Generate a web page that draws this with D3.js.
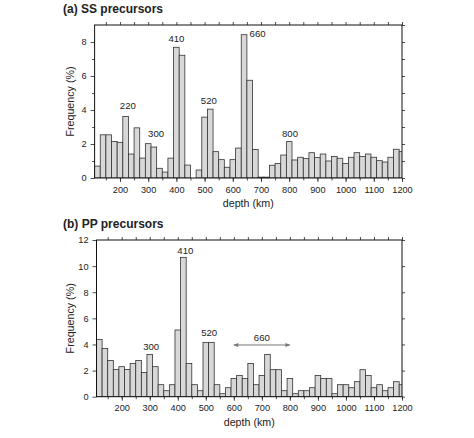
<!DOCTYPE html>
<html>
<head>
<meta charset="utf-8">
<script src="https://cdn.jsdelivr.net/npm/d3@7"></script>
<style>
  body { margin: 0; background: #fff; }
  svg text { font-family: "Liberation Sans", Arial, Helvetica, sans-serif; fill: #222; }
</style>
</head>
<body>
<div id="chart"></div>
<script>
// bin centres (km), 20 km wide bins
var depths = [120, 140, 160, 180, 200, 220, 240, 260, 280, 300,
  320, 340, 360, 380, 400, 420, 440, 460, 480, 500,
  520, 540, 560, 580, 600, 620, 640, 660, 680, 700,
  720, 740, 760, 780, 800, 820, 840, 860, 880, 900,
  920, 940, 960, 980, 1000, 1020, 1040, 1060, 1080, 1100,
  1120, 1140, 1160, 1180, 1200];

var ssFreq = [0.7, 2.54, 2.54, 2.15, 2.1, 3.62, 1.41, 2.95, 1.17, 2.02,
  1.82, 0.57, 0.35, 1.17, 7.69, 7.22, 0.76, 0, 0.47, 3.58,
  4.05, 1.55, 1.08, 0.63, 1.08, 1.76, 8.43, 5.75, 1.68, 0.05,
  0.05, 0.75, 0.86, 1.35, 2.14, 1.06, 1.22, 1.14, 1.49, 1.2,
  1.41, 1.0, 1.27, 1.16, 0.86, 1.22, 1.49, 1.27, 1.41, 1.22,
  1.02, 0.94, 1.22, 1.69, 1.55];

var ppFreq = [4.39, 3.7, 2.78, 2.09, 2.3, 2.09, 2.55, 2.78, 1.86, 3.24,
  2.3, 0.92, 0.46, 0.92, 5.11, 10.67, 2.55, 0.92, 0.46, 4.16,
  4.16, 0.92, 0.23, 0.69, 1.4, 1.63, 1.4, 2.55, 0.92, 1.63,
  3.24, 2.07, 2.07, 0.46, 1.4, 0.23, 0.46, 0.46, 0.69, 1.63,
  1.4, 1.4, 0.23, 0.92, 0.92, 0.69, 1.15, 2.07, 1.63, 0.69,
  0.92, 0.46, 0.69, 1.15, 0.92];

var xTicks = [200, 300, 400, 500, 600, 700, 800, 900, 1000, 1100, 1200];

// discontinuity labels: text, depth, frequency
var ssLabels = ['220', '300', '410', '520', '660', '800'];
var ssLabelDepth = [228, 328, 400, 515, 688, 803];
var ssLabelFreq = [4.24, 2.59, 8.18, 4.55, 8.47, 2.59];

var ppLabels = ['300', '410', '520', '660'];
var ppLabelDepth = [305, 427, 512, 700];
var ppLabelFreq = [3.83, 11.2, 4.93, 4.55];
var ppArrow = [600, 800, 3.96];

var W = 474, H = 438;

var svg = d3.select('#chart').append('svg')
  .attr('width', W)
  .attr('height', H);

var defs = svg.append('defs');
defs.append('marker')
  .attr('id', 'ahead')
  .attr('viewBox', '0 0 10 10')
  .attr('refX', 9).attr('refY', 5)
  .attr('markerWidth', 8).attr('markerHeight', 5)
  .attr('markerUnits', 'userSpaceOnUse')
  .attr('orient', 'auto-start-reverse')
  .append('path')
  .attr('d', 'M0,1 L10,5 L0,9 Z')
  .attr('fill', '#777');

drawPanel({
  id: 'a', title: '(a) SS precursors', values: ssFreq,
  left: 94.6, right: 402, top: 25, bottom: 178,
  yMax: 9, yMajor: 2, rightStep: 1, leftMinor: true,
  labels: ssLabels, labelDepth: ssLabelDepth, labelFreq: ssLabelFreq,
  titleY: 12.5
});

drawPanel({
  id: 'b', title: '(b) PP precursors', values: ppFreq,
  left: 96.5, right: 402, top: 240, bottom: 396.7,
  yMax: 12, yMajor: 2, rightStep: 2, leftMinor: false,
  labels: ppLabels, labelDepth: ppLabelDepth, labelFreq: ppLabelFreq,
  arrow: ppArrow, titleY: 228
});

function drawPanel(p) {
  var x = d3.scaleLinear().domain([110, 1200]).range([p.left, p.right]);
  var y = d3.scaleLinear().domain([0, p.yMax]).range([p.bottom, p.top]);

  var g = svg.append('g');

  g.append('clipPath')
    .attr('id', 'clip-' + p.id)
    .append('rect')
    .attr('x', p.left).attr('y', p.top)
    .attr('width', p.right - p.left)
    .attr('height', p.bottom - p.top);

  // bars
  g.append('g')
    .attr('clip-path', 'url(#clip-' + p.id + ')')
    .selectAll('rect')
    .data(depths)
    .enter()
    .append('rect')
    .attr('x', function(d) { return x(d - 10); })
    .attr('width', function(d) { return x(d + 10) - x(d - 10); })
    .attr('y', function(d, i) { return y(p.values[i]); })
    .attr('height', function(d, i) { return y(0) - y(p.values[i]); })
    .attr('fill', '#d8d8d8')
    .attr('stroke', '#333')
    .attr('stroke-width', 0.8)
    .style('display', function(d, i) { return p.values[i] > 0 ? null : 'none'; });

  // frame axes
  var minorX = d3.range(150, 1201, 50);
  var bottomMinor = d3.axisBottom(x).tickValues(minorX).tickSize(2.5).tickFormat('');
  var bottomMajor = d3.axisBottom(x).tickValues(xTicks).tickSize(4).tickPadding(4).tickFormat(d3.format('d'));
  var topAxis = d3.axisTop(x).tickValues(minorX).tickSize(3).tickFormat('');

  var yMajorTicks = d3.range(0, p.yMax + 0.01, p.yMajor);
  var leftMajor = d3.axisLeft(y).tickValues(yMajorTicks).tickSize(4).tickPadding(4).tickFormat(d3.format('d'));
  var rightAxis = d3.axisRight(y).tickValues(d3.range(0, p.yMax + 0.01, p.rightStep)).tickSize(3).tickFormat('');

  g.append('g').attr('transform', 'translate(0,' + p.bottom + ')').call(bottomMinor);
  g.append('g').attr('transform', 'translate(0,' + p.bottom + ')').call(bottomMajor);
  g.append('g').attr('transform', 'translate(0,' + p.top + ')').call(topAxis);
  g.append('g').attr('transform', 'translate(' + p.left + ',0)').call(leftMajor);
  if (p.leftMinor) {
    var leftMinor = d3.axisLeft(y).tickValues(d3.range(1, p.yMax, 2)).tickSize(2.5).tickFormat('');
    g.append('g').attr('transform', 'translate(' + p.left + ',0)').call(leftMinor);
  }
  g.append('g').attr('transform', 'translate(' + p.right + ',0)').call(rightAxis);

  g.selectAll('.domain').remove();
  g.selectAll('.tick line').attr('stroke', '#222').attr('stroke-width', 0.8);
  g.selectAll('.tick text').attr('font-size', 9.2).attr('fill', '#222')
    .style('font-family', '"Liberation Sans", Arial, Helvetica, sans-serif');

  g.append('rect')
    .attr('x', p.left).attr('y', p.top)
    .attr('width', p.right - p.left)
    .attr('height', p.bottom - p.top)
    .attr('fill', 'none')
    .attr('stroke', '#111')
    .attr('stroke-width', 1);

  // titles
  g.append('text')
    .attr('x', 63).attr('y', p.titleY)
    .attr('font-size', 12)
    .attr('font-weight', 'bold')
    .text(p.title);

  g.append('text')
    .attr('transform', 'translate(74,' + ((p.top + p.bottom) / 2) + ') rotate(-90)')
    .attr('text-anchor', 'middle')
    .attr('font-size', 10.7)
    .text('Frequency (%)');

  g.append('text')
    .attr('x', (p.left + p.right) / 2)
    .attr('y', p.bottom + 29)
    .attr('text-anchor', 'middle')
    .attr('font-size', 10.7)
    .text('depth (km)');

  // peak labels
  g.selectAll('.peak')
    .data(p.labels)
    .enter()
    .append('text')
    .attr('class', 'peak')
    .attr('x', function(d, i) { return x(p.labelDepth[i]); })
    .attr('y', function(d, i) { return y(p.labelFreq[i]); })
    .attr('dy', '0.35em')
    .attr('text-anchor', 'middle')
    .attr('font-size', 9.6)
    .text(function(d) { return d; });

  if (p.arrow) {
    g.append('line')
      .attr('x1', x(p.arrow[0])).attr('x2', x(p.arrow[1]))
      .attr('y1', y(p.arrow[2])).attr('y2', y(p.arrow[2]))
      .attr('stroke', '#777')
      .attr('stroke-width', 1)
      .attr('marker-start', 'url(#ahead)')
      .attr('marker-end', 'url(#ahead)');
  }
}
</script>
</body>
</html>
